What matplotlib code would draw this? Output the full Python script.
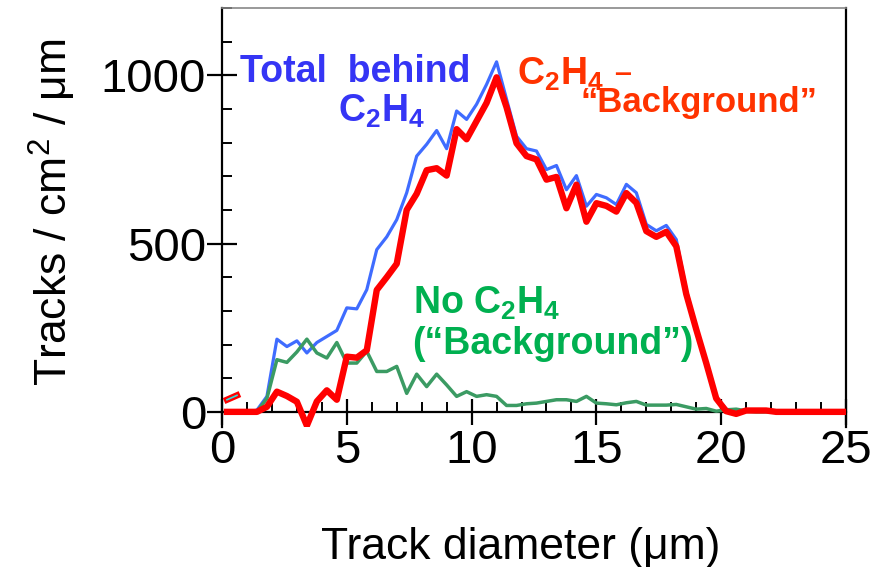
import numpy as np
import matplotlib
matplotlib.use("Agg")
import matplotlib.pyplot as plt
from matplotlib.ticker import MultipleLocator

plt.rcParams['font.family'] = ['Liberation Sans', 'DejaVu Sans']
plt.rcParams['mathtext.default'] = 'regular'

# Track diameter bins (um), 0.4 um wide
diam = [0.2, 0.6, 1.0, 1.4, 1.8, 2.2, 2.6, 3.0, 3.4, 3.8,
        4.2, 4.6, 5.0, 5.4, 5.8, 6.2, 6.6, 7.0, 7.4, 7.8,
        8.2, 8.6, 9.0, 9.4, 9.8, 10.2, 10.6, 11.0, 11.4, 11.8,
        12.2, 12.6, 13.0, 13.4, 13.8, 14.2, 14.6, 15.0, 15.4, 15.8,
        16.2, 16.6, 17.0, 17.4, 17.8, 18.2, 18.6, 19.0, 19.4, 19.8,
        20.2, 20.6, 21.0, 21.4, 21.8, 22.2, 22.6, 23.0, 23.4, 23.8,
        24.2, 24.6, 25.0]

# total tracks behind C2H4
total = [0, 0, 0, 5, 46, 216, 194, 211, 175, 206,
         224, 242, 309, 306, 363, 482, 520, 571, 651, 760,
         795, 836, 782, 894, 869, 914, 973, 1040, 929, 819,
         782, 775, 720, 732, 660, 702, 611, 646, 636, 616,
         676, 651, 557, 538, 554, 512, 363, 250, 150, 45,
         8, 2, 6, 4, 4, 0, 0, 0, 0, 0,
         0, 0, 0]

# no C2H4 ("background")
backgr = [0, 0, 0, 0, 40, 155, 147, 178, 216, 175,
          160, 206, 145, 145, 180, 120, 120, 135, 55, 112,
          75, 112, 80, 46, 60, 46, 51, 46, 19, 19,
          24, 26, 31, 36, 36, 31, 46, 26, 24, 21,
          27, 31, 20, 20, 20, 22, 15, 8, 10, 2,
          6, 8, 3, 0, 0, 0, 0, 0, 0, 0,
          0, 0, 0]

# C2H4 - "background"
net = [0, 0, 0, 0, 15, 60, 47, 30, -41, 31,
       64, 36, 164, 161, 183, 362, 400, 440, 600, 648,
       718, 724, 702, 840, 810, 864, 918, 994, 905, 798,
       760, 750, 690, 698, 605, 675, 565, 620, 612, 595,
       650, 621, 537, 520, 535, 492, 350, 245, 145, 40,
       2, -6, 4, 4, 4, 0, 0, 0, 0, 0,
       0, 0, 0]

# short stray segment at the very start
stub_x = [0.2, 0.6]
stub_y = [36, 49]

fig = plt.figure(figsize=(8.79, 5.67), dpi=100)
ax = fig.add_axes([222 / 879, 1 - 427 / 567, 624 / 879, 419 / 567])

ax.plot(diam, total, color='#3f6cff', lw=2.3, zorder=3)
ax.plot(diam, backgr, color='#3b9b63', lw=2.5, zorder=3)
ax.plot(diam, net, color='#ff0000', lw=4.6, zorder=4)
ax.plot(stub_x, stub_y, color='#ff0000', lw=4.6, zorder=4)
ax.plot(stub_x, stub_y, color='#33dddd', lw=1.2, zorder=5)

ax.set_xlim(0, 25)
ax.set_ylim(-45, 1200)
ax.spines['bottom'].set_position(('data', 0))
for s in ['left', 'bottom', 'right']:
    ax.spines[s].set_linewidth(1.6)
ax.spines['top'].set_linewidth(1.2)
ax.spines['top'].set_color('#888888')

ax.xaxis.set_major_locator(MultipleLocator(5))
ax.xaxis.set_minor_locator(MultipleLocator(1))
ax.yaxis.set_major_locator(MultipleLocator(500))
ax.yaxis.set_minor_locator(MultipleLocator(100))
ax.tick_params(which='major', direction='inout', length=19, width=1.6,
               labelsize=34, pad=3)
ax.tick_params(which='minor', direction='in', length=7.5, width=1.4)
ax.tick_params(axis='y', which='major', length=21, pad=1)

ax.set_xlabel('Track diameter (\u03bcm)', fontsize=32)
ax.set_ylabel('Tracks / cm$^2$ / \u03bcm', fontsize=32)
ax.xaxis.set_label_coords(0.478, -0.238)
ax.yaxis.set_label_coords(-0.23, 0.513)

blue = '#3535f5'
red = '#ff3300'
green = '#00b050'
fs = 27
ax.text(5.32, 979, 'Total  behind', color=blue, fontsize=fs,
        fontweight='bold', ha='center', va='baseline')
ax.text(6.4, 863, 'C$_2$H$_4$', color=blue, fontsize=fs,
        fontweight='bold', ha='center', va='baseline')
ax.text(14.15, 972, 'C$_2$H$_4$ \u2013', color=red, fontsize=fs,
        fontweight='bold', ha='center', va='baseline')
ax.text(19.1, 890, '\u201cBackground\u201d', color=red, fontsize=25,
        fontweight='bold', ha='center', va='baseline')
ax.text(10.6, 292, 'No C$_2$H$_4$', color=green, fontsize=fs,
        fontweight='bold', ha='center', va='baseline')
ax.text(13.24, 172, '(\u201cBackground\u201d)', color=green, fontsize=fs,
        fontweight='bold', ha='center', va='baseline')

fig.savefig('out.png', dpi=100)
